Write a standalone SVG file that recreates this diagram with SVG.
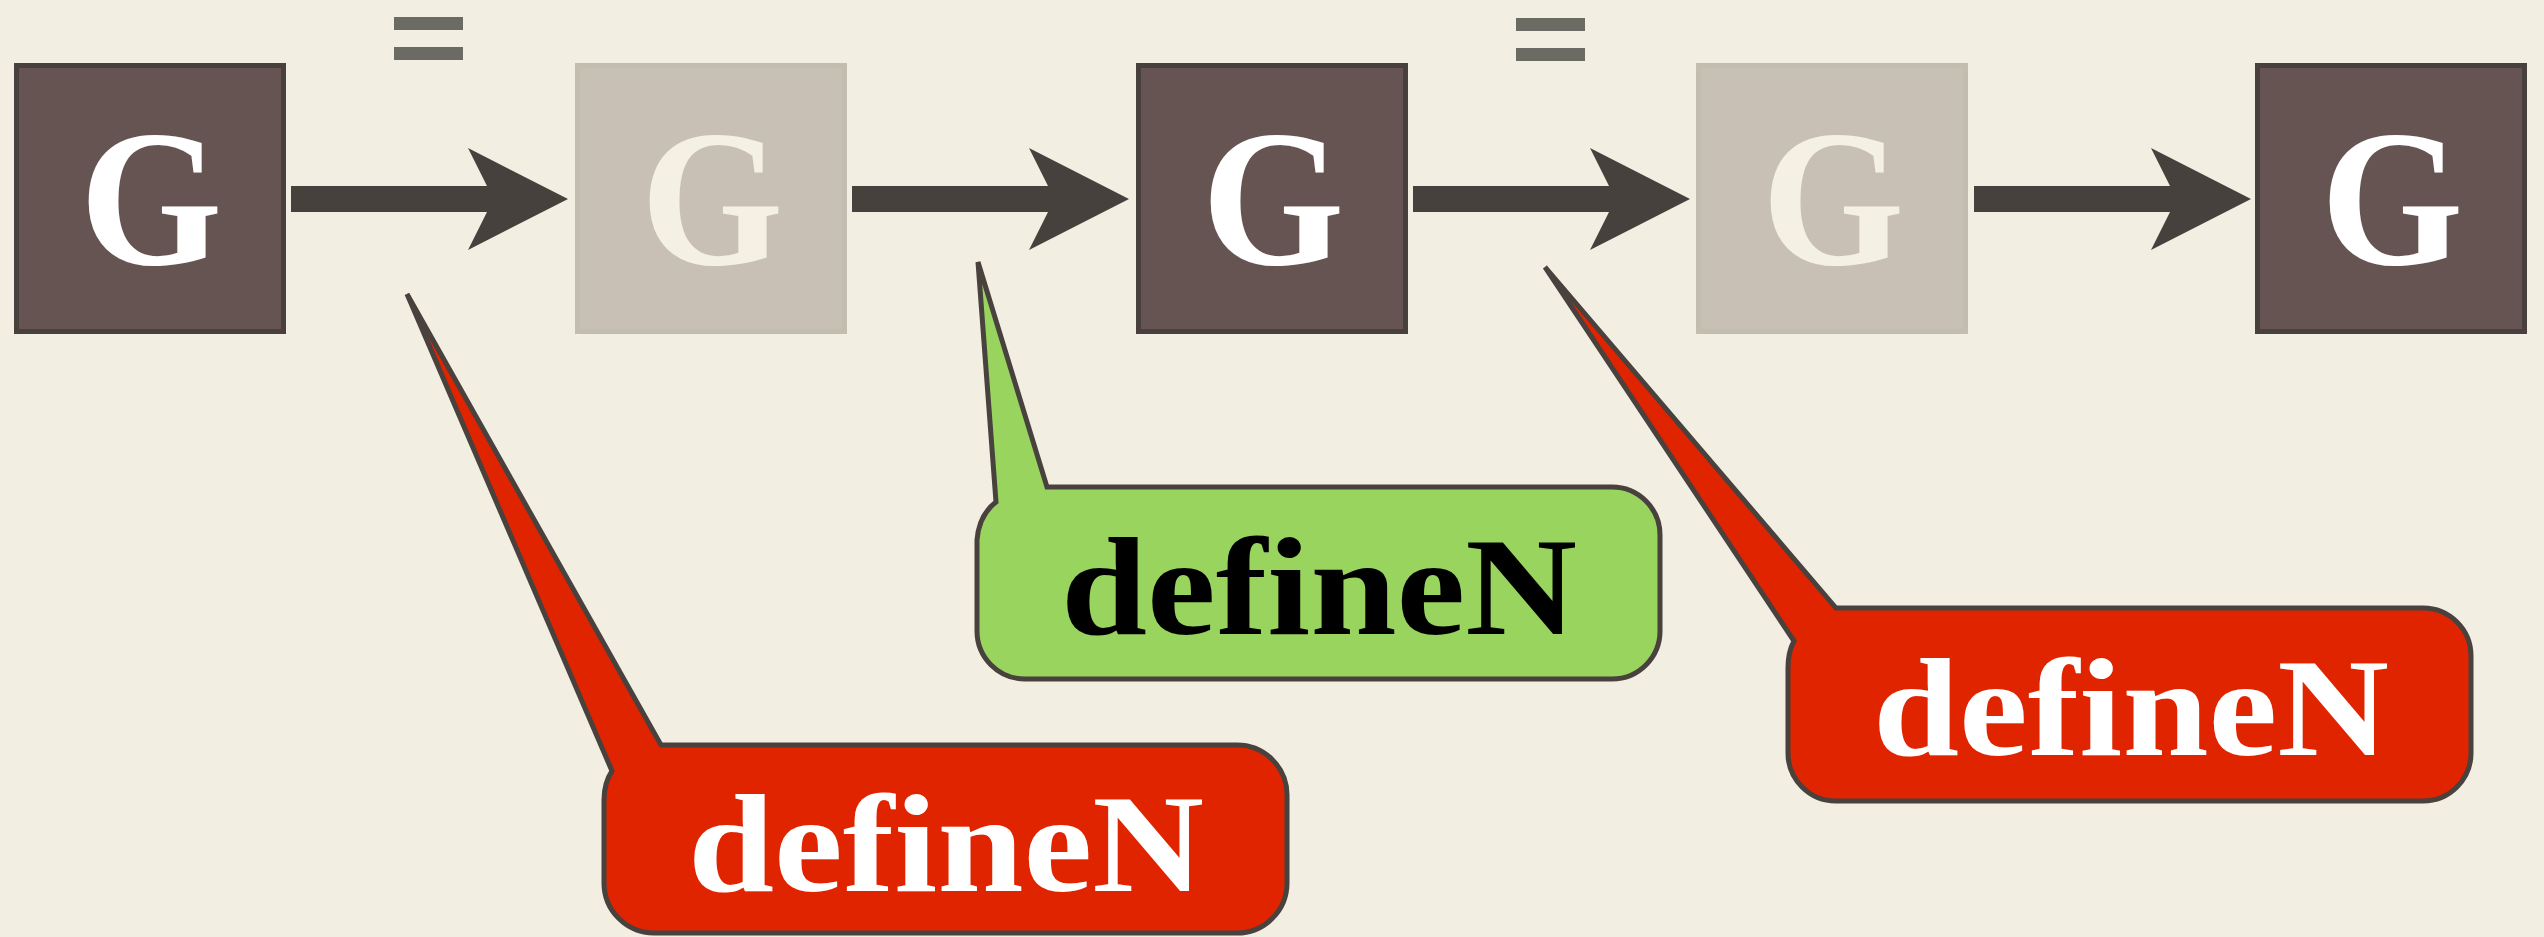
<svg xmlns="http://www.w3.org/2000/svg" width="2544" height="937" viewBox="0 0 2544 937">
<style>
.bg{fill:#f2eee1}
.dark rect{fill:#655452;stroke:#47403c;stroke-width:5}
.light rect{fill:#c8c0b4;stroke:#c3bdaf;stroke-width:5}
.g{font-size:196px;text-anchor:middle}
.dark text{fill:#ffffff}
.light text{fill:#f4f0e4}
.arrow{fill:#47413d}
.eq{fill:#6b6a63}
.callout path{stroke:#48413d;stroke-width:5;stroke-linejoin:miter;stroke-miterlimit:4}
.red path{fill:#e02400}
.green path{fill:#98d45e}
.lbl{font-size:140px;text-anchor:middle}
.red text{fill:#ffffff}
.green text{fill:#000000}
</style>
<defs>
<path id="arr" d="M0,186 L196,186 L177,148 L277,199 L177,250 L196,212 L0,212 Z"/>
</defs>
<rect class="bg" x="0" y="0" width="2544" height="937"/>

<g id="equals">
<rect class="eq" x="394" y="17" width="69" height="13"/>
<rect class="eq" x="394" y="47" width="69" height="13"/>
<rect class="eq" x="1516" y="18" width="69" height="13"/>
<rect class="eq" x="1516" y="48" width="69" height="13"/>
</g>

<g id="connectors" class="arrow">
<use href="#arr" x="291"/>
<use href="#arr" x="852"/>
<use href="#arr" x="1413"/>
<use href="#arr" x="1974"/>
</g>

<g font-family="Liberation Serif, Times New Roman, serif" font-weight="700">
<g id="node-g1" class="dark">
<rect x="16.5" y="65.5" width="267" height="266"/>
<text class="g" transform="translate(151 264) scale(0.935 1)">G</text>
</g>
<g id="node-g2" class="light">
<rect x="577.5" y="65.5" width="267" height="266"/>
<text class="g" transform="translate(712 264) scale(0.935 1)">G</text>
</g>
<g id="node-g3" class="dark">
<rect x="1138.5" y="65.5" width="267" height="266"/>
<text class="g" transform="translate(1273 264) scale(0.935 1)">G</text>
</g>
<g id="node-g4" class="light">
<rect x="1698.5" y="65.5" width="267" height="266"/>
<text class="g" transform="translate(1833 264) scale(0.935 1)">G</text>
</g>
<g id="node-g5" class="dark">
<rect x="2257.5" y="65.5" width="267" height="266"/>
<text class="g" transform="translate(2392 264) scale(0.935 1)">G</text>
</g>

<g id="callout-red-1" class="callout red">
<path d="M661,745 L1237,745 A50,50 0 0 1 1287,795 L1287,883 A50,50 0 0 1 1237,933 L654,933 A50,50 0 0 1 604,883 L604,800 Q604,783 612,771 L407,294 Z"/>
<text class="lbl" x="946" y="891" textLength="516" lengthAdjust="spacingAndGlyphs">defineN</text>
</g>
<g id="callout-green" class="callout green">
<path d="M1047,487 L1612,487 A48,48 0 0 1 1660,535 L1660,631 A48,48 0 0 1 1612,679 L1025,679 A48,48 0 0 1 977,631 L977,540 Q979,515 996,502 L978,262 Z"/>
<text class="lbl" x="1319" y="634" textLength="516" lengthAdjust="spacingAndGlyphs">defineN</text>
</g>
<g id="callout-red-2" class="callout red">
<path d="M1836,608 L2423,608 A48,48 0 0 1 2471,656 L2471,753 A48,48 0 0 1 2423,801 L1836,801 A48,48 0 0 1 1788,753 L1788,668 Q1788,652 1794,641 L1545,267 Z"/>
<text class="lbl" x="2131" y="755" textLength="516" lengthAdjust="spacingAndGlyphs">defineN</text>
</g>
</g>
</svg>
